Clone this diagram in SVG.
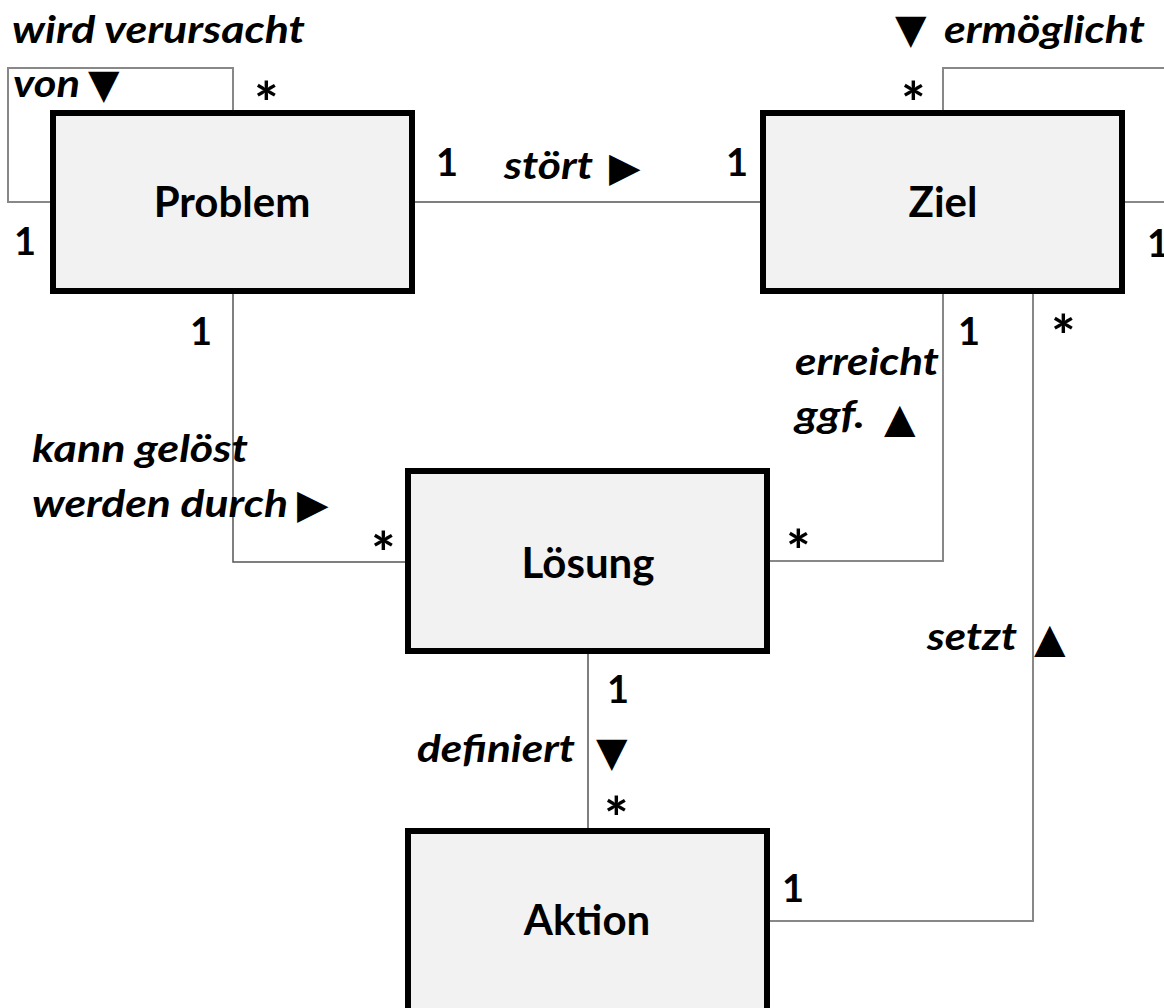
<svg xmlns="http://www.w3.org/2000/svg" width="1164" height="1008" viewBox="0 0 1164 1008">
<style>
.box{fill:#f2f2f2;stroke:#000;stroke-width:6}
.nt{font-family:Lato,"Open Sans","Liberation Sans",sans-serif;font-weight:bold;font-size:42px;fill:#000;text-anchor:middle}
.lb{font-family:Lato,"Open Sans","Liberation Sans",sans-serif;font-weight:bold;font-style:italic;font-size:38px;fill:#000}
.m{font-family:Lato,"Open Sans","Liberation Sans",sans-serif;font-weight:bold;font-size:38px;fill:#000}
.st{font-family:Lato,"Open Sans","Liberation Sans",sans-serif;font-weight:bold;font-size:58px;fill:#000}
.tri{font-family:"DejaVu Sans",sans-serif;font-size:41px;fill:#000}
.c1{fill:none;stroke:#555;stroke-width:1.5}
.c2{fill:none;stroke:#888;stroke-width:2}
</style>
<rect width="1164" height="1008" fill="#fff"/>
<g id="connectors">
<path class="c2" d="M50,202 H8 V68 H233 V110"/>
<path class="c1" d="M415,202 H762"/>
<path class="c2" d="M943,110 V68 H1164"/>
<path class="c2" d="M1125,202 H1164"/>
<path class="c1" d="M233,294 V562 H405"/>
<path class="c2" d="M943,294 V561 H770"/>
<path class="c2" d="M1033,294 V921 H770"/>
<path class="c1" d="M588,654 V828"/>
</g>
<g id="node-problem">
<rect class="box" x="53" y="113" width="359" height="178"/>
<text class="nt" x="232" y="217">Problem</text>
</g>
<g id="node-ziel">
<rect class="box" x="763" y="113" width="359" height="178"/>
<text class="nt" x="943" y="217">Ziel</text>
</g>
<g id="node-loesung">
<rect class="box" x="408" y="471" width="359" height="180"/>
<text class="nt" x="588" y="578">Lösung</text>
</g>
<g id="node-aktion">
<rect class="box" x="408" y="831" width="359" height="190"/>
<text class="nt" x="587" y="935">Aktion</text>
</g>
<g id="labels">
<text class="lb" x="12" y="43" textLength="293" lengthAdjust="spacingAndGlyphs">wird verursacht</text>
<text class="lb" x="13" y="97" textLength="67" lengthAdjust="spacingAndGlyphs">von</text>
<text class="tri" x="88" y="98">▼</text>
<text class="st" x="254" y="124">*</text>
<text class="m" x="14" y="255">1</text>

<text class="m" x="436" y="176">1</text>
<text class="lb" x="504" y="179" textLength="89" lengthAdjust="spacingAndGlyphs">stört</text>
<text class="tri" x="609" y="181">▶</text>
<text class="m" x="726" y="176">1</text>

<text class="tri" x="895" y="43">▼</text>
<text class="lb" x="944" y="43" textLength="201" lengthAdjust="spacingAndGlyphs">ermöglicht</text>
<text class="st" x="901" y="124">*</text>
<text class="m" x="1147" y="257">1</text>

<text class="m" x="190" y="345">1</text>
<text class="lb" x="32" y="462" textLength="216" lengthAdjust="spacingAndGlyphs">kann gelöst</text>
<text class="lb" x="32" y="517" textLength="256" lengthAdjust="spacingAndGlyphs">werden durch</text>
<text class="tri" x="297" y="518">▶</text>
<text class="st" x="371" y="574">*</text>

<text class="m" x="958" y="345">1</text>
<text class="lb" x="795" y="375" textLength="144" lengthAdjust="spacingAndGlyphs">erreicht</text>
<text class="lb" x="795" y="428" textLength="70" lengthAdjust="spacingAndGlyphs">ggf.</text>
<text class="tri" x="884" y="432">▲</text>
<text class="st" x="786" y="572">*</text>

<text class="st" x="1051" y="357">*</text>
<text class="lb" x="927" y="650" textLength="90" lengthAdjust="spacingAndGlyphs">setzt</text>
<text class="tri" x="1034" y="652">▲</text>

<text class="m" x="607" y="703">1</text>
<text class="lb" x="417" y="762" textLength="158" lengthAdjust="spacingAndGlyphs">definiert</text>
<text class="tri" x="596" y="766">▼</text>
<text class="st" x="604" y="839">*</text>

<text class="m" x="782" y="902">1</text>
</g>
</svg>
